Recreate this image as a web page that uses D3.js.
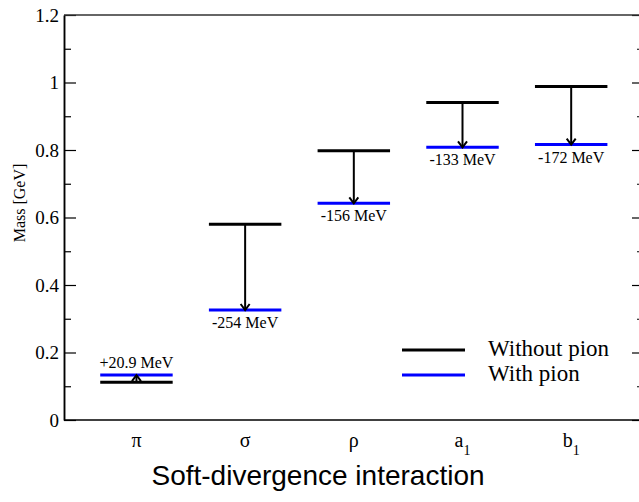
<!DOCTYPE html>
<html>
<head>
<meta charset="utf-8">
<script src="https://d3js.org/d3.v7.min.js"></script>
<style>
body { margin: 0; background: #fff; }
svg { display: block; }
.serif { font-family: "Liberation Serif", "Times New Roman", serif; }
</style>
</head>
<body>
<script type="text/javascript">

/*Data*/

var mesons = ["π", "σ", "ρ", "a", "b"];
var mesonSubs = ["", "", "", "1", "1"];
var massWithout = [0.112, 0.580, 0.798, 0.941, 0.988];
var massWith = [0.133, 0.326, 0.642, 0.808, 0.816];
var shiftLabels = ["+20.9 MeV", "-254 MeV", "-156 MeV", "-133 MeV", "-172 MeV"];
var majorTicks = [0, 0.2, 0.4, 0.6, 0.8, 1, 1.2];
var minorTicks = [0.1, 0.3, 0.5, 0.7, 0.9, 1.1];

/*Setup*/

var width = 639, height = 502;
var plotLeft = 64, plotRight = 644, plotTop = 15, plotBottom = 420;

var svg = d3.select("body").append("svg")
  .attr("width", width)
  .attr("height", height);

var x = d3.scaleLinear().domain([1 / 3, 5.67]).range([plotLeft, plotRight]);
var y = d3.scaleLinear().domain([0, 1.2]).range([plotBottom, plotTop]);

/*Frame and ticks*/

function styleAxis(g) {
  g.select(".domain").attr("stroke", "#000").attr("stroke-width", 1.5);
  g.selectAll(".tick line").attr("stroke", "#000").attr("stroke-width", 1.2);
}

svg.append("g")
  .attr("transform", "translate(" + plotLeft + ",0)")
  .call(d3.axisLeft(y).tickValues(majorTicks).tickSizeInner(-12).tickSizeOuter(0)
    .tickPadding(5).tickFormat(function(d) { return d3.format("")(d); }))
  .call(styleAxis)
  .call(function(g) {
    g.selectAll("text").attr("font-size", 19).attr("fill", "#000")
      .attr("font-family", "Liberation Serif, Times New Roman, serif");
  });

svg.append("g")
  .attr("transform", "translate(" + plotLeft + ",0)")
  .call(d3.axisLeft(y).tickValues(minorTicks).tickSizeInner(-7).tickSizeOuter(0).tickFormat(""))
  .call(styleAxis);

svg.append("g")
  .attr("transform", "translate(" + plotRight + ",0)")
  .call(d3.axisRight(y).tickValues(majorTicks).tickSizeInner(-12).tickSizeOuter(0).tickFormat(""))
  .call(styleAxis);

svg.append("g")
  .attr("transform", "translate(" + plotRight + ",0)")
  .call(d3.axisRight(y).tickValues(minorTicks).tickSizeInner(-7).tickSizeOuter(0).tickFormat(""))
  .call(styleAxis);

svg.append("line")
  .attr("x1", plotLeft).attr("x2", plotRight)
  .attr("y1", y(1.2)).attr("y2", y(1.2))
  .attr("stroke", "#333").attr("stroke-width", 1.5);

svg.append("line")
  .attr("x1", plotLeft).attr("x2", plotRight)
  .attr("y1", y(0)).attr("y2", y(0))
  .attr("stroke", "#000").attr("stroke-width", 1.5);

/*Levels*/

var idx = d3.range(mesons.length);
var half = 1 / 3;

svg.selectAll(".without").data(idx).enter().append("line")
  .attr("x1", function(i) { return x(i + 1 - half); })
  .attr("x2", function(i) { return x(i + 1 + half); })
  .attr("y1", function(i) { return y(massWithout[i]); })
  .attr("y2", function(i) { return y(massWithout[i]); })
  .attr("stroke", "#000").attr("stroke-width", 3);

svg.selectAll(".with").data(idx).enter().append("line")
  .attr("x1", function(i) { return x(i + 1 - half); })
  .attr("x2", function(i) { return x(i + 1 + half); })
  .attr("y1", function(i) { return y(massWith[i]); })
  .attr("y2", function(i) { return y(massWith[i]); })
  .attr("stroke", "#0000ff").attr("stroke-width", 3);

/*Arrows*/

svg.selectAll(".shaft").data(idx).enter().append("line")
  .attr("x1", function(i) { return x(i + 1); })
  .attr("x2", function(i) { return x(i + 1); })
  .attr("y1", function(i) { return y(massWithout[i]); })
  .attr("y2", function(i) { return y(massWith[i]); })
  .attr("stroke", "#000").attr("stroke-width", 2);

svg.selectAll(".head").data(idx).enter().append("path")
  .attr("d", function(i) {
    var cx = x(i + 1), tip = y(massWith[i]);
    var dir = massWith[i] < massWithout[i] ? -1 : 1;
    return "M" + (cx - 4.5) + "," + (tip + dir * 6) + "L" + cx + "," + tip +
      "L" + (cx + 4.5) + "," + (tip + dir * 6);
  })
  .attr("fill", "none").attr("stroke", "#000").attr("stroke-width", 2);

svg.selectAll(".shift").data(idx).enter().append("text")
  .attr("class", "serif")
  .attr("x", function(i) { return x(i + 1); })
  .attr("y", function(i) {
    return massWith[i] > massWithout[i] ? y(massWith[i]) - 7 : y(massWith[i]) + 18;
  })
  .attr("text-anchor", "middle")
  .attr("font-size", 16)
  .text(function(i) { return shiftLabels[i]; });

/*Category labels*/

var cat = svg.selectAll(".cat").data(idx).enter().append("text")
  .attr("class", "serif")
  .attr("x", function(i) { return x(i + 1); })
  .attr("y", 447)
  .attr("text-anchor", "middle")
  .attr("font-size", 20);

cat.append("tspan").text(function(i) { return mesons[i]; });
cat.append("tspan")
  .attr("font-size", 14)
  .attr("dy", 8)
  .text(function(i) { return mesonSubs[i]; });

/*Axis titles*/

svg.append("text")
  .attr("class", "serif")
  .attr("transform", "translate(25,203) rotate(-90)")
  .attr("text-anchor", "middle")
  .attr("font-size", 16)
  .text("Mass [GeV]");

svg.append("text")
  .attr("x", 318).attr("y", 485)
  .attr("text-anchor", "middle")
  .attr("font-family", "Liberation Sans, Arial, sans-serif")
  .attr("font-size", 28)
  .text("Soft-divergence interaction");

/*Legend*/

var legend = svg.append("g").selectAll("g")
  .data([{ label: "Without pion", color: "#000" }, { label: "With pion", color: "#0000ff" }])
  .enter().append("g")
  .attr("transform", function(d, i) { return "translate(402," + (350 + i * 25) + ")"; });

legend.append("line")
  .attr("x1", 0).attr("x2", 63)
  .attr("stroke", function(d) { return d.color; })
  .attr("stroke-width", 3);

legend.append("text")
  .attr("class", "serif")
  .attr("x", 86).attr("y", 6)
  .attr("font-size", 23)
  .text(function(d) { return d.label; });

</script>
</body>
</html>
